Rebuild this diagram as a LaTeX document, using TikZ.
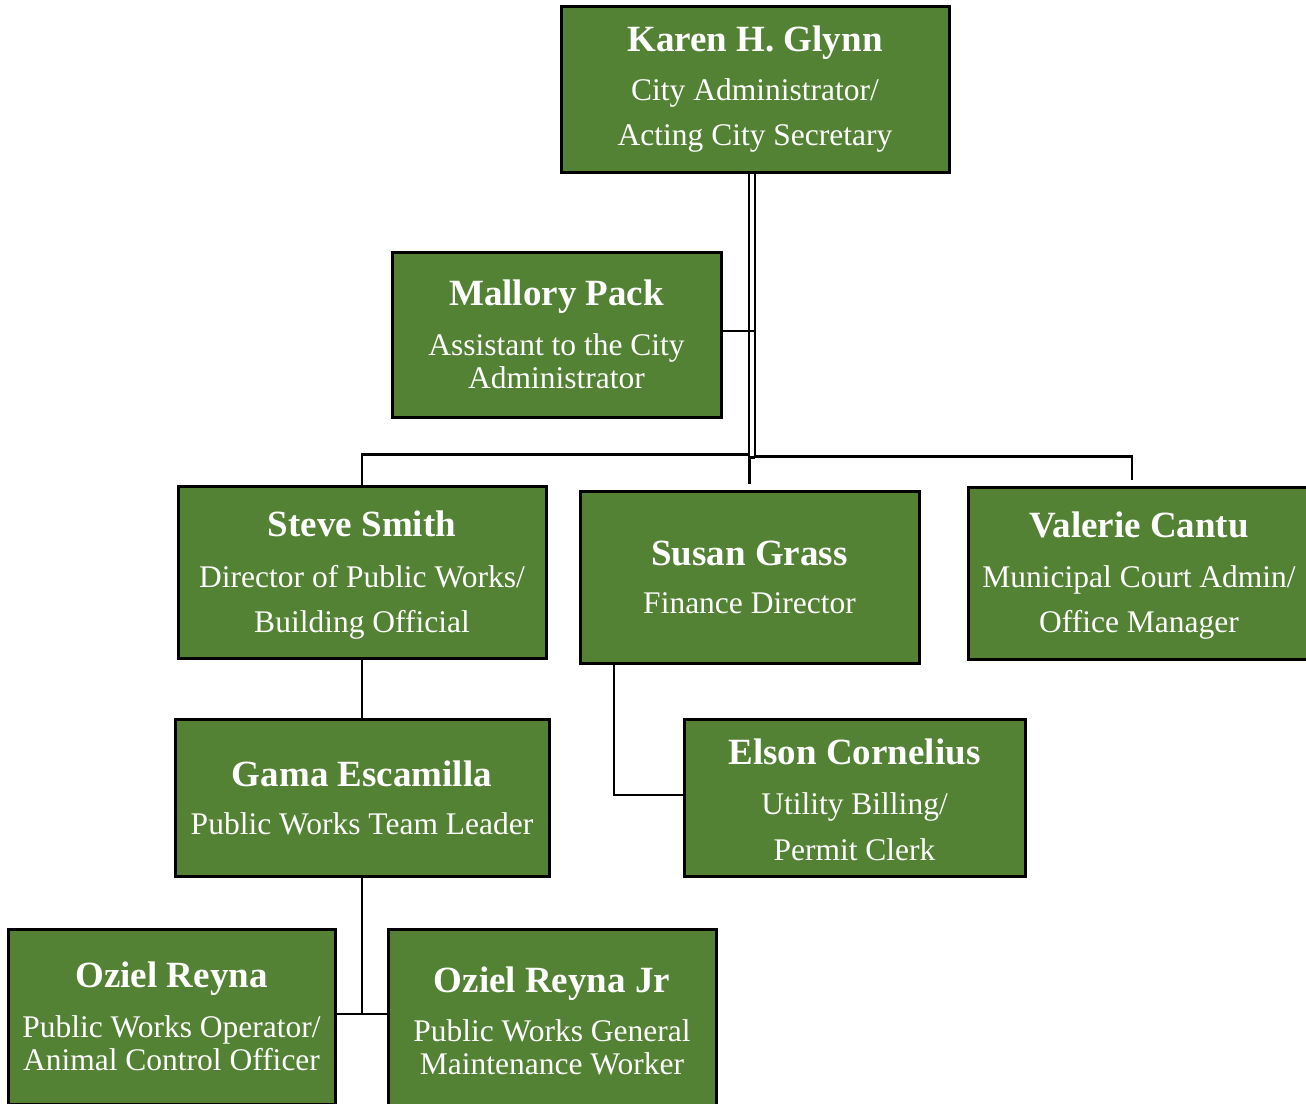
\documentclass[tikz,border=0pt]{standalone}
\usepackage{fontspec}
\setmainfont{Liberation Serif}
\usepackage{xcolor}
\usepackage{tikz}
\usetikzlibrary{positioning, calc}
\definecolor{boxgreen}{HTML}{548235}
\newcommand{\pname}[1]{{\fontsize{37}{40}\selectfont\bfseries #1}}

\begin{document}
\begin{tikzpicture}[x=1pt, y=-1pt]
    \tikzstyle{person} = [rectangle, draw=black, line width=3pt, fill=boxgreen, text=white, align=center, inner sep=0pt, font=\fontsize{31.5}{33}\selectfont]
    \tikzstyle{link} = [line width=2.6pt, draw=black]

    \useasboundingbox (0,0) rectangle (1306,1103);
    \clip (0,0) rectangle (1306,1103);

    \node (karen) [person, minimum width=388pt, minimum height=166pt] at (755,89) {\pname{Karen H. Glynn}\\[16pt] City Administrator/\\[12pt] Acting City Secretary};
    \node (mallory) [person, minimum width=329pt, minimum height=165pt] at (556.5,334.5) {\pname{Mallory Pack}\\[17pt] Assistant to the City\\ Administrator};

    \node (steve) [person, minimum width=368pt, minimum height=172pt] at (362,572) {\rule{0pt}{32pt}\pname{Steve Smith}\\[18pt] Director of Public Works/\\[12pt] Building Official};
    \node (susan) [person, minimum width=339pt, minimum height=172pt] at (749.5,577) {\pname{Susan Grass}\\[15pt] Finance Director};
    \node (valerie) [person, minimum width=342pt, minimum height=172pt] at (1139,573) {\rule{0pt}{30pt}\pname{Valerie Cantu}\\[17pt] Municipal Court Admin/\\[12pt] Office Manager};

    \node (gama) [person, minimum width=374pt, minimum height=157pt] at (362,797.5) {\pname{Gama Escamilla}\\[15pt] Public Works Team Leader};
    \node (elson) [person, minimum width=341pt, minimum height=157pt] at (854.5,797.5) {\rule{0pt}{30pt}\pname{Elson Cornelius}\\[17pt] Utility Billing/\\[13pt] Permit Clerk};

    \node (oziel) [person, minimum width=327pt, minimum height=175pt] at (171.5,1016.5) {\pname{Oziel Reyna}\\[17pt] Public Works Operator/\\ Animal Control Officer};
    \node (ozieljr) [person, minimum width=328pt, minimum height=183pt] at (552,1020.5) {\pname{Oziel Reyna Jr}\\[16pt] Public Works General\\ Maintenance Worker};

    % lines from the top
    \coordinate (split) at ([yshift=-285pt]karen.south);
    \draw [link] ([xshift=-6pt]karen.south) -- ++(0,281) -| (steve.north);
    \draw [link] (karen.south) -- ([yshift=2pt]split) -| ([xshift=-7pt, yshift=6pt]valerie.north);
    \draw [link] ([yshift=1.3pt]split) -- ([xshift=-5.5pt, yshift=1.3pt]split) -- ([yshift=6pt]susan.north);
    \draw [link] (mallory.east) ++(0,-3.5) -- ([yshift=3.5pt]mallory.east -| karen.south);

    \draw [link] (steve.south) -- (gama.north);
    \draw [link] ([xshift=-135.5pt]susan.south) |- ([yshift=2.5pt]elson.west);

    \coordinate (fork) at ([yshift=2.5pt]oziel.east -| gama.south);
    \draw [link] (gama.south) -- (fork);
    \draw [link] ([yshift=2.5pt]oziel.east) -- ([yshift=6.5pt]ozieljr.west);
\end{tikzpicture}
\end{document}
